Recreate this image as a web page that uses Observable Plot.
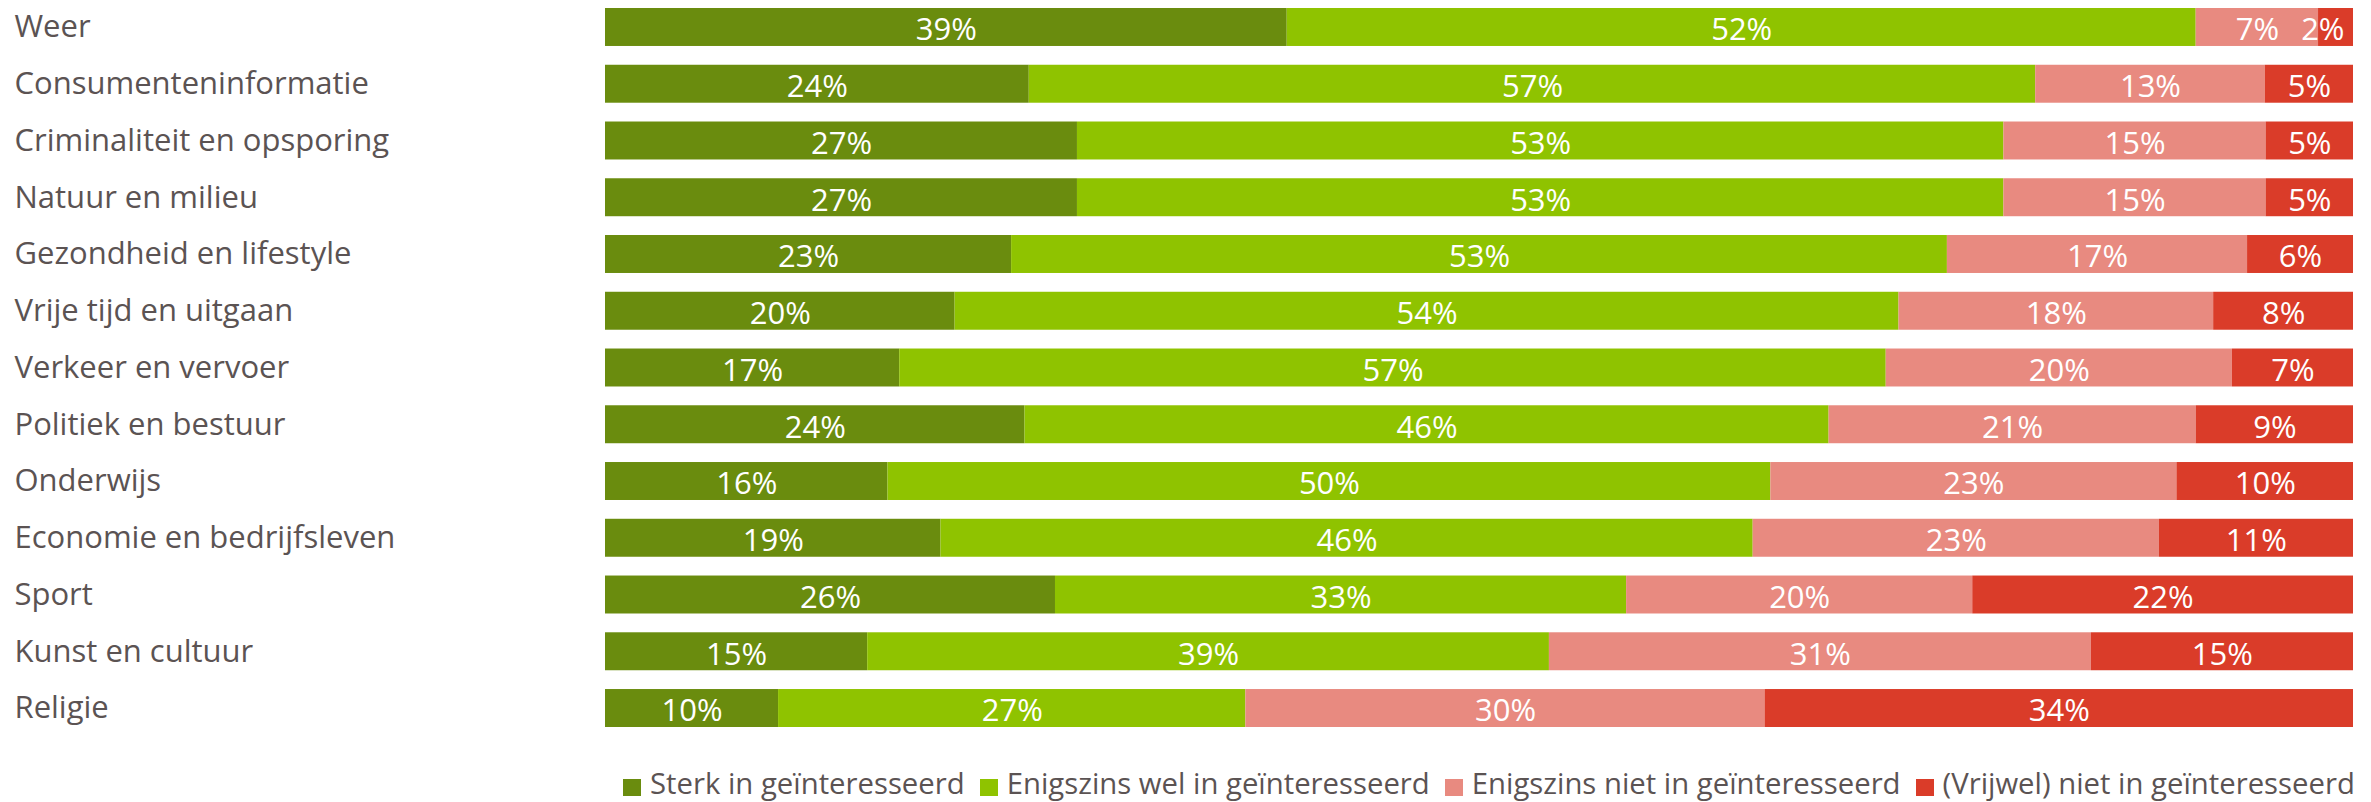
<!DOCTYPE html>
<html>
<head>
<meta charset="utf-8">
<script src="https://cdn.jsdelivr.net/npm/d3@7"></script>
<script src="https://cdn.jsdelivr.net/npm/@observablehq/plot@0.6"></script>
<style>
  html, body { margin: 0; padding: 0; background: #fff; }
  body { width: 2371px; height: 802px; overflow: hidden; font-family: "Open Sans", sans-serif; }
  #chart svg { display: block; }
  #legend { display: flex; align-items: center; padding-left: 623px; height: 62px; margin-top: 12px; }
  .item { display: flex; align-items: center; margin-right: 15px; color: #5b5353; font-size: 29.3px; white-space: nowrap; }
  .sw { width: 18px; height: 17px; margin-right: 9px; margin-top: 8px; }
</style>
</head>
<body>
<div id="chart"></div>
<div id="legend"></div>
<script>
const categories = [
  "Weer", "Consumenteninformatie", "Criminaliteit en opsporing", "Natuur en milieu",
  "Gezondheid en lifestyle", "Vrije tijd en uitgaan", "Verkeer en vervoer",
  "Politiek en bestuur", "Onderwijs", "Economie en bedrijfsleven", "Sport",
  "Kunst en cultuur", "Religie"
];
const seriesNames = [
  "Sterk in geïnteresseerd", "Enigszins wel in geïnteresseerd",
  "Enigszins niet in geïnteresseerd", "(Vrijwel) niet in geïnteresseerd"
];
const sterk    = [39, 24, 27, 27, 23, 20, 17, 24, 16, 19, 26, 15, 10];
const enigWel  = [52, 57, 53, 53, 53, 54, 57, 46, 50, 46, 33, 39, 27];
const enigNiet = [ 7, 13, 15, 15, 17, 18, 20, 21, 23, 23, 20, 31, 30];
const niet     = [ 2,  5,  5,  5,  6,  8,  7,  9, 10, 11, 22, 15, 34];
const colors = ["#6a8c0e", "#8fc300", "#e88a80", "#da3c29"];

const seriesValues = [sterk, enigWel, enigNiet, niet];
const data = [];
categories.forEach((c, i) => {
  seriesNames.forEach((s, j) => {
    data.push({category: c, series: s, value: seriesValues[j][i]});
  });
});

const narrow = d => d.value < 4;
const font = "Open Sans";
const chart = Plot.plot({
  width: 2371,
  height: 740,
  marginLeft: 605,
  marginRight: 18,
  marginTop: 8,
  marginBottom: 13,
  style: {fontFamily: font, background: "#fff"},
  x: {axis: null, domain: [0, 1]},
  y: {domain: categories, paddingInner: 0.331, paddingOuter: 0, align: 0.5, round: false, label: null},
  color: {domain: seriesNames, range: colors},
  marks: [
    Plot.barX(data, Plot.stackX({offset: "normalize", order: null}, {
      x: "value", y: "category", z: "series", fill: "series"
    })),
    Plot.text(data, Plot.stackX({offset: "normalize", order: null}, {
      x: "value", y: "category", z: "series",
      text: d => narrow(d) ? "" : d.value + "%", fill: "white", fontSize: 31, dy: 3
    })),
    Plot.text(data, Plot.stackX2({offset: "normalize", order: null}, {
      x: "value", y: "category", z: "series",
      text: d => narrow(d) ? d.value + "%" : "", fill: "white", fontSize: 31, dy: 3,
      textAnchor: "end", dx: -9
    })),
    Plot.axisY({
      tickSize: 0, tickPadding: 0, textAnchor: "start", dx: -591,
      fontSize: 31, fill: "#5b5353", label: null
    })
  ]
});
document.getElementById("chart").appendChild(chart);

const legend = document.getElementById("legend");
seriesNames.forEach((s, i) => {
  const item = document.createElement("div");
  item.className = "item";
  const sw = document.createElement("div");
  sw.className = "sw";
  sw.style.background = colors[i];
  const t = document.createElement("span");
  t.textContent = s;
  item.appendChild(sw);
  item.appendChild(t);
  legend.appendChild(item);
});
</script>
</body>
</html>
